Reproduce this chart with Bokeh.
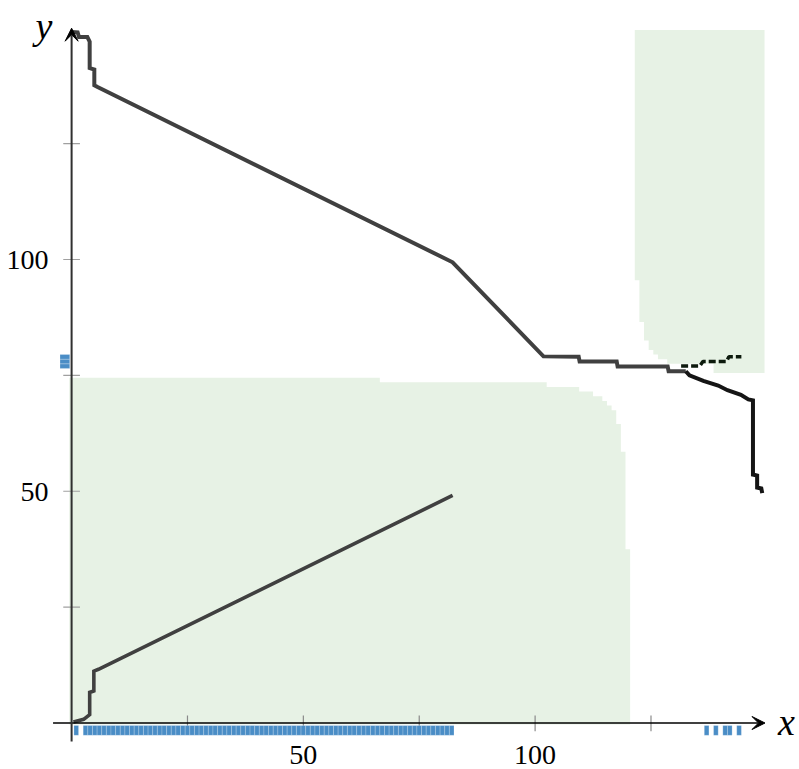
from bokeh.plotting import figure
from bokeh.models import Range1d, Arrow, VeeHead
from bokeh.core.properties import value
from bokeh.embed import file_html
from bokeh.resources import INLINE

# ---------------- data ----------------
# lower-left green region: column blocks (right edge, top)
bl_right = [66.5, 102.5, 109.5, 112.5, 114.5, 115.5, 116.5, 117.5, 118.5, 119.5, 120.5]
bl_top = [74.5, 73.5, 72.5, 71.5, 70.5, 69.5, 68.5, 67.5, 64.5, 58.5, 37.5]
bl_left0 = -0.5
bl_bottom = -0.3

# upper-right green region: row blocks (left edge, bottom)
tr_left = [121.5, 122.5, 123.5, 124.5, 125.5, 126.5, 128.5, 138.5]
tr_bottom = [95.5, 86.5, 82.5, 80.5, 79.5, 78.5, 77.5, 75.5]
tr_top0 = 149.5
tr_right = 149.5

# trajectories
upper_x = [0.0, 1.3, 1.6, 3.4, 3.9, 3.9, 4.9, 4.9, 5.6, 82.2, 101.8, 109.4, 109.6, 117.6, 117.8, 128.6, 128.8, 132.5]
upper_y = [149.1, 149.0, 148.0, 148.0, 147.0, 141.3, 141.0, 137.6, 137.2, 99.4, 79.1, 79.0, 78.0, 78.0, 76.9, 76.9, 75.9, 75.9]
tail_x = [132.5, 133.3, 136.3, 139.5, 141.5, 144.4, 146.0, 147.0, 147.0, 147.9, 147.9, 148.8, 149.0]
tail_y = [75.9, 75.0, 73.8, 72.8, 71.8, 70.8, 69.8, 69.6, 53.6, 53.4, 50.8, 50.6, 49.6]
rise_x = [131.5, 135.5, 136.2, 141.3, 141.8, 144.5]
rise_y = [77.0, 77.0, 78.0, 78.0, 79.0, 79.0]
lower_x = [0.4, 2.6, 3.9, 3.9, 4.8, 4.8, 5.8, 82.2]
lower_y = [0.2, 0.8, 1.8, 6.6, 6.9, 11.2, 11.6, 49.1]

# rug marks
rug_bottom_x = [1] + list(range(3, 83)) + [137, 139, 141, 142, 144]
rug_left_y = [77, 78, 79]

# ticks and labels
x_ticks = [25, 50, 75, 100, 125]
y_ticks = [25, 50, 75, 100, 125]
x_labels = [50, 100]
y_labels = [50, 100]

# ---------------- figure ----------------
p = figure(width=799, height=769, x_range=Range1d(-15.34, 157.04), y_range=Range1d(-10.03, 155.88),
           output_backend="svg", toolbar_location=None, x_axis_location=None, y_axis_location=None,
           min_border=0, outline_line_color=None, background_fill_color="white")
p.xgrid.visible = False
p.ygrid.visible = False

GREEN = "#e7f2e5"
BLUE = "#4a8dc6"
LINE = "#404040"

# lower-left region polygon (stair vertices built from the block arrays)
bx, by = [bl_left0, bl_left0], [bl_bottom, bl_top[0]]
left = bl_left0
for r, t in zip(bl_right, bl_top):
    bx += [left, r]
    by += [t, t]
    left = r
bx += [bl_right[-1]]
by += [bl_bottom]
p.patch(bx, by, fill_color=GREEN, line_color=None)

# upper-right region polygon
tx, ty = [tr_right], [tr_top0]
top = tr_top0
for l, b in zip(tr_left, tr_bottom):
    tx += [l, l]
    ty += [top, b]
    top = b
tx += [tr_right]
ty += [tr_bottom[-1]]
p.patch(tx, ty, fill_color=GREEN, line_color=None)

# ticks
p.segment(x0=x_ticks, y0=[-1.8] * len(x_ticks), x1=x_ticks, y1=[1.6] * len(x_ticks),
          line_color="#8a8a8a", line_width=1.2)
p.segment(x0=[-1.8] * len(y_ticks), y0=y_ticks, x1=[1.8] * len(y_ticks), y1=y_ticks,
          line_color="#a0a0a0", line_width=1.2)

# rugs
p.rect(x=rug_bottom_x, y=[-1.6] * len(rug_bottom_x), width=1, height=2.1,
       fill_color=BLUE, line_color="white", line_alpha=0.35, line_width=0.6)
p.rect(x=[-1.45] * len(rug_left_y), y=rug_left_y, width=2.1, height=1,
       fill_color=BLUE, line_color="white", line_alpha=0.35, line_width=0.6)

# axes with arrowheads
p.add_layout(Arrow(x_start=-4, y_start=0, x_end=149.6, y_end=0, line_color="black", line_width=1.4,
                   end=VeeHead(size=13, fill_color="black", line_color="black", line_width=1)))
p.add_layout(Arrow(x_start=0, y_start=-4, x_end=0, y_end=149.9, line_color="#303030", line_width=2,
                   end=VeeHead(size=13, fill_color="black", line_color="black", line_width=1)))

# trajectories
p.line(upper_x, upper_y, line_color=LINE, line_width=4, line_join="miter")
p.line(tail_x, tail_y, line_color="#151515", line_width=4, line_join="miter")
p.line(rise_x, rise_y, line_color="#0d1a0d", line_width=3.5, line_dash="7 3")
p.line(lower_x, lower_y, line_color=LINE, line_width=3.6, line_join="miter")

# tick labels
p.text(x=x_labels, y=[-6.9] * len(x_labels), text=[str(v) for v in x_labels],
       text_font=value("Liberation Serif"), text_font_size="28px", text_align="center",
       text_baseline="alphabetic", text_color="black")
p.text(x=[-5.0] * len(y_labels), y=[v - 0.2 for v in y_labels], text=[str(v) for v in y_labels],
       text_font=value("Liberation Serif"), text_font_size="28px", text_align="right",
       text_baseline="alphabetic", text_color="black")

# axis labels
p.text(x=[152.4], y=[0.2], text=["x"], text_font=value("Liberation Serif"), text_font_size="38px",
       text_font_style="italic", text_align="left", text_baseline="alphabetic", text_color="black")
p.text(x=[-7.8], y=[150.4], text=["y"], text_font=value("Liberation Serif"), text_font_size="38px",
       text_font_style="italic", text_align="left", text_baseline="alphabetic", text_color="black")

open("out.html", "w").write(file_html(p, INLINE))
